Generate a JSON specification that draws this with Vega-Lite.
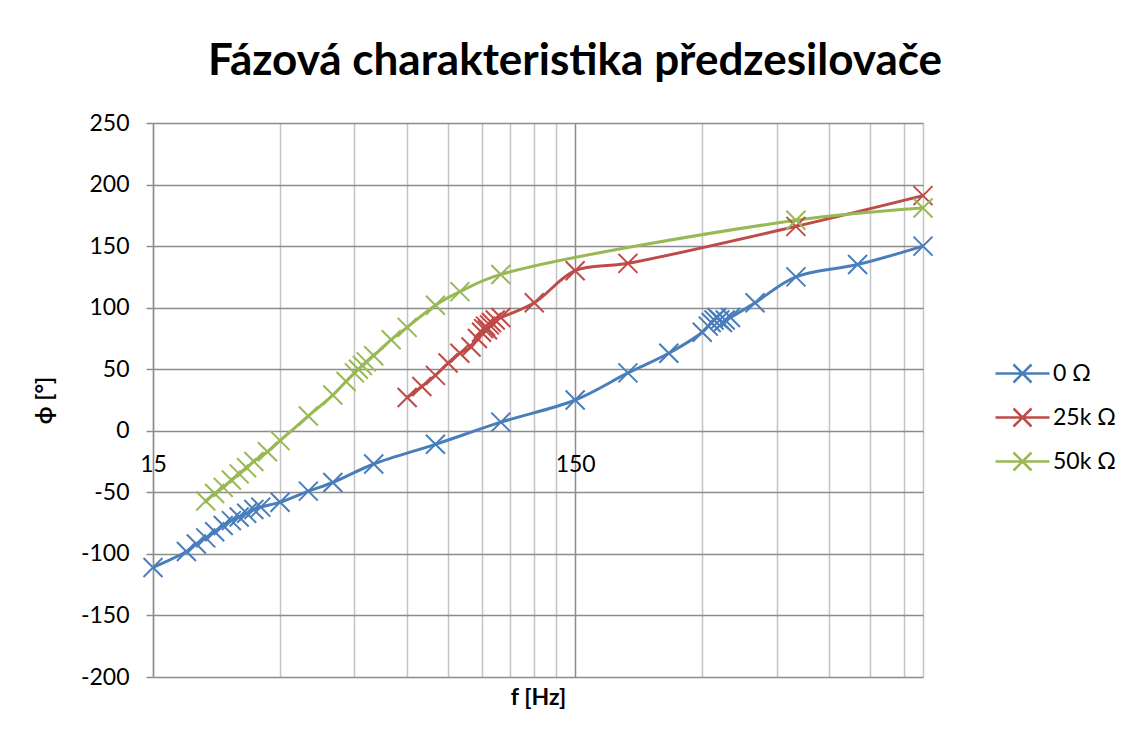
{
  "$schema": "https://vega.github.io/schema/vega-lite/v6.json",
  "width": 770,
  "height": 554,
  "autosize": {"type": "none"},
  "padding": {"left": 153, "top": 123, "right": 206, "bottom": 61},
  "background": "white",
  "config": {"view": {"stroke": null}, "font": "Lato"},
  "title": {"text": "Fázová charakteristika předzesilovače", "font": "Lato", "fontSize": 44, "fontWeight": "bold", "color": "#000000", "anchor": "middle", "dx": 37, "offset": 28},
  "data": {"values": [
    {"s": "0 Ω", "f": 15, "phi": -111},
    {"s": "0 Ω", "f": 18, "phi": -98},
    {"s": "0 Ω", "f": 19, "phi": -92},
    {"s": "0 Ω", "f": 20, "phi": -87},
    {"s": "0 Ω", "f": 21, "phi": -82},
    {"s": "0 Ω", "f": 22, "phi": -77},
    {"s": "0 Ω", "f": 23, "phi": -73},
    {"s": "0 Ω", "f": 24, "phi": -70},
    {"s": "0 Ω", "f": 25, "phi": -67},
    {"s": "0 Ω", "f": 26, "phi": -64},
    {"s": "0 Ω", "f": 27, "phi": -62},
    {"s": "0 Ω", "f": 30, "phi": -58},
    {"s": "0 Ω", "f": 35, "phi": -49},
    {"s": "0 Ω", "f": 40, "phi": -42},
    {"s": "0 Ω", "f": 50, "phi": -27},
    {"s": "0 Ω", "f": 70, "phi": -11},
    {"s": "0 Ω", "f": 100, "phi": 7},
    {"s": "0 Ω", "f": 150, "phi": 25},
    {"s": "0 Ω", "f": 200, "phi": 47},
    {"s": "0 Ω", "f": 250, "phi": 63},
    {"s": "0 Ω", "f": 300, "phi": 80},
    {"s": "0 Ω", "f": 310, "phi": 85},
    {"s": "0 Ω", "f": 315, "phi": 88},
    {"s": "0 Ω", "f": 320, "phi": 90},
    {"s": "0 Ω", "f": 325, "phi": 92},
    {"s": "0 Ω", "f": 330, "phi": 90},
    {"s": "0 Ω", "f": 335, "phi": 88},
    {"s": "0 Ω", "f": 340, "phi": 90},
    {"s": "0 Ω", "f": 350, "phi": 92},
    {"s": "0 Ω", "f": 400, "phi": 104},
    {"s": "0 Ω", "f": 500, "phi": 125},
    {"s": "0 Ω", "f": 700, "phi": 135},
    {"s": "0 Ω", "f": 1000, "phi": 150},
    {"s": "25k Ω", "f": 60, "phi": 27},
    {"s": "25k Ω", "f": 65, "phi": 36},
    {"s": "25k Ω", "f": 70, "phi": 45},
    {"s": "25k Ω", "f": 75, "phi": 55},
    {"s": "25k Ω", "f": 80, "phi": 63},
    {"s": "25k Ω", "f": 85, "phi": 68},
    {"s": "25k Ω", "f": 88, "phi": 75},
    {"s": "25k Ω", "f": 90, "phi": 80},
    {"s": "25k Ω", "f": 91, "phi": 83},
    {"s": "25k Ω", "f": 92, "phi": 85},
    {"s": "25k Ω", "f": 93, "phi": 82},
    {"s": "25k Ω", "f": 94, "phi": 86},
    {"s": "25k Ω", "f": 95, "phi": 88},
    {"s": "25k Ω", "f": 97, "phi": 90},
    {"s": "25k Ω", "f": 100, "phi": 92},
    {"s": "25k Ω", "f": 120, "phi": 104},
    {"s": "25k Ω", "f": 150, "phi": 130},
    {"s": "25k Ω", "f": 200, "phi": 136},
    {"s": "25k Ω", "f": 500, "phi": 166},
    {"s": "25k Ω", "f": 1000, "phi": 191},
    {"s": "50k Ω", "f": 20, "phi": -57},
    {"s": "50k Ω", "f": 21, "phi": -51},
    {"s": "50k Ω", "f": 22, "phi": -46},
    {"s": "50k Ω", "f": 23, "phi": -40},
    {"s": "50k Ω", "f": 24, "phi": -35},
    {"s": "50k Ω", "f": 25, "phi": -30},
    {"s": "50k Ω", "f": 26, "phi": -25},
    {"s": "50k Ω", "f": 28, "phi": -17},
    {"s": "50k Ω", "f": 30, "phi": -8},
    {"s": "50k Ω", "f": 35, "phi": 12},
    {"s": "50k Ω", "f": 40, "phi": 29},
    {"s": "50k Ω", "f": 43, "phi": 40},
    {"s": "50k Ω", "f": 45, "phi": 47},
    {"s": "50k Ω", "f": 46, "phi": 50},
    {"s": "50k Ω", "f": 47, "phi": 53},
    {"s": "50k Ω", "f": 48, "phi": 56},
    {"s": "50k Ω", "f": 50, "phi": 61},
    {"s": "50k Ω", "f": 55, "phi": 74},
    {"s": "50k Ω", "f": 60, "phi": 84},
    {"s": "50k Ω", "f": 70, "phi": 102},
    {"s": "50k Ω", "f": 80, "phi": 113},
    {"s": "50k Ω", "f": 100, "phi": 127},
    {"s": "50k Ω", "f": 500, "phi": 171},
    {"s": "50k Ω", "f": 1000, "phi": 181}
  ]},
  "encoding": {
    "x": {
      "field": "f", "type": "quantitative",
      "scale": {"type": "log", "domain": [15, 1000], "nice": false},
      "axis": {
        "title": "f [Hz]",
        "values": [15, 30, 45, 60, 75, 90, 105, 120, 135, 150, 300, 450, 600, 750, 900, 1000],
        "format": "d",
        "labelExpr": "datum.value == 15 || datum.value == 150 ? datum.label : ''",
        "offset": -246,
        "domain": false,
        "ticks": false,
        "labelPadding": 22,
        "labelFont": "Lato",
        "labelFontSize": 23,
        "labelColor": "#000000",
        "labelFlush": false,
        "labelOverlap": false,
        "grid": true,
        "gridColor": {"condition": {"test": "datum.value == 150", "value": "#8C8C8C"}, "value": "#C4C4C4"},
        "gridWidth": 1.5,
        "titleFont": "Lato",
        "titleFontSize": 23,
        "titleFontWeight": "bold",
        "titleColor": "#000000",
        "titleY": 266,
        "titleBaseline": "middle"
      }
    },
    "y": {
      "field": "phi", "type": "quantitative",
      "scale": {"domain": [-200, 250], "nice": false, "zero": false},
      "axis": {
        "title": "ϕ [°]",
        "values": [-200, -150, -100, -50, 0, 50, 100, 150, 200, 250],
        "labelExpr": "replace(datum.label, '−', '-')",
        "grid": true,
        "gridColor": "#8C8C8C",
        "gridWidth": 1.5,
        "domainColor": "#8C8C8C",
        "domainWidth": 1.5,
        "tickColor": "#8C8C8C",
        "tickSize": 7,
        "tickWidth": 1.5,
        "labelPadding": 17,
        "labelFont": "Lato",
        "labelFontSize": 23,
        "labelColor": "#000000",
        "titleFont": "Lato",
        "titleFontSize": 23,
        "titleFontWeight": "bold",
        "titleColor": "#000000",
        "titleX": -97
      }
    },
    "color": {
      "field": "s", "type": "nominal",
      "scale": {"domain": ["0 Ω", "25k Ω", "50k Ω"], "range": ["#4A7EBB", "#BE4B48", "#98B954"]},
      "legend": {
        "orient": "none",
        "legendX": 858,
        "legendY": 239,
        "title": null,
        "symbolType": "M-3,0L3,0M-1,-1L1,1M-1,1L1,-1",
        "symbolSize": 324,
        "symbolStrokeWidth": 2.5,
        "symbolFillColor": "transparent",
        "labelFont": "Lato",
        "labelFontSize": 23,
        "labelColor": "#000000",
        "labelOffset": 19,
        "rowPadding": 15
      }
    }
  },
  "layer": [
    {"mark": {"type": "line", "interpolate": "catmull-rom", "strokeWidth": 3}},
    {"mark": {"type": "point", "shape": "M-1,-1L1,1M-1,1L1,-1", "filled": false, "size": 361, "strokeWidth": 2, "opacity": 1}}
  ]
}
